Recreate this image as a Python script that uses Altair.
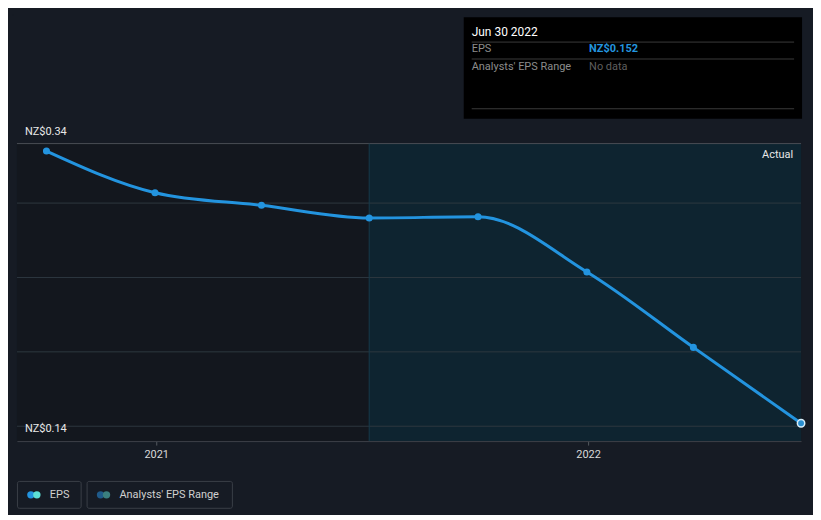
import altair as alt
import pandas as pd

# ---- data ----
dates = ["2020-09-30", "2020-12-31", "2021-03-31", "2021-06-30",
         "2021-09-30", "2021-12-31", "2022-03-31", "2022-06-30"]
eps = [0.335, 0.307, 0.2985, 0.290, 0.2908, 0.2537, 0.203, 0.152]

x_start = "2020-09-05"
x_end = "2022-06-30"
split_date = "2021-06-30"
tick_years = [2021, 2022]
y_lo, y_hi = 0.14, 0.34
grid_vals = [0.15, 0.20, 0.25, 0.30]
y_labels = ["NZ$0.34", "NZ$0.14"]
y_label_vals = [0.34, 0.14]

W, H = 788, 299
BG = "#161b24"
BLUE = "#2394df"
FONT = "Roboto"


def dec_year(s):
    t = pd.Timestamp(s)
    days = 366 if t.is_leap_year else 365
    return t.year + (t.dayofyear - 1) / days


df = pd.DataFrame({"yr": [dec_year(d) for d in dates], "eps": eps})
x0, x1, xsplit = dec_year(x_start), dec_year(x_end), dec_year(split_date)
xs = alt.Scale(domain=[x0, x1], nice=False, zero=False)
ys = alt.Scale(domain=[y_lo, y_hi], nice=False, zero=False)
XAX = alt.Axis(values=tick_years, format="d", title=None, grid=False,
               labelColor="#d8d8d8", labelFont=FONT, labelFontSize=11,
               tickColor="#555a60", tickSize=4, domainColor="#3d4249", labelPadding=3)
one = pd.DataFrame({"a": [0]})


def X(f):
    return alt.X(f, scale=xs, axis=XAX)


def Y(f):
    return alt.Y(f, scale=ys, axis=None)


def txt(t, x, y, color, size=11, align="left", weight="normal"):
    return alt.Chart(one).mark_text(
        text=t, align=align, baseline="middle", color=color, font=FONT,
        fontSize=size, fontWeight=weight).encode(x=alt.value(x), y=alt.value(y))


def hrule(y, xa, xb, color):
    return alt.Chart(one).mark_rule(color=color, strokeWidth=1).encode(
        x=alt.value(xa), x2=alt.value(xb), y=alt.value(y))


def vrect(xa, xb, ya, yb, fill, stroke=None):
    kw = {"fill": fill}
    if stroke:
        kw.update(stroke=stroke, strokeWidth=1, cornerRadius=2)
    return alt.Chart(one).mark_rect(**kw).encode(
        x=alt.value(xa), x2=alt.value(xb), y=alt.value(ya), y2=alt.value(yb))


def region(a, b, c):
    d = pd.DataFrame({"start": [a], "end": [b], "lo": [y_lo], "hi": [y_hi]})
    return alt.Chart(d).mark_rect(color=c, opacity=1).encode(
        x=X("start:Q"), x2="end:Q", y=Y("lo:Q"), y2="hi:Q")


def hline(vals, c):
    d = pd.DataFrame({"v": vals, "s": [x0] * len(vals), "e": [x1] * len(vals)})
    return alt.Chart(d).mark_rule(color=c, strokeWidth=1).encode(
        y=Y("v:Q"), x=X("s:Q"), x2="e:Q")


bg_left = region(x0, xsplit, "#13171e")
bg_right = region(xsplit, x1, "#0e2430")
grid = hline(grid_vals, "#2d3740")
top_line = hline([y_hi], "#4a4e55")

split = alt.Chart(pd.DataFrame({"d": [xsplit], "lo": [y_lo], "hi": [y_hi]})).mark_rule(
    color="#17394a", strokeWidth=1).encode(x=X("d:Q"), y=Y("lo:Q"), y2="hi:Q")

line = alt.Chart(df).mark_line(color=BLUE, strokeWidth=3, interpolate="monotone").encode(
    x=X("yr:Q"), y=Y("eps:Q"))
pts = alt.Chart(df.iloc[:-1]).mark_circle(color=BLUE, size=50, opacity=1).encode(
    x=X("yr:Q"), y=Y("eps:Q"))
last_pt = alt.Chart(df.iloc[-1:]).mark_point(filled=True, fill="#2a8fd0", stroke="#d8eefa",
                                             strokeWidth=1.5, size=55, opacity=1).encode(
    x=X("yr:Q"), y=Y("eps:Q"))

ylab = alt.Chart(pd.DataFrame({"t": y_labels, "v": y_label_vals, "d": [x0, x0]})).mark_text(
    align="left", baseline="middle", dx=8, dy=-12, color="#e8e8e8", font=FONT, fontSize=11).encode(
    x=X("d:Q"), y=Y("v:Q"), text="t:N")

actual = txt("Actual", 780, 11, "#e8e8e8", align="right")

spacers = [vrect(-4, -3, -130, -129, BG)]

tip = [
    vrect(449, 789, -127, -25, "#000000"),
    hrule(-102, 457, 781, "#3a3a3a"),
    hrule(-85, 457, 781, "#3a3a3a"),
    hrule(-35, 457, 781, "#3a3a3a"),
    txt("Jun 30 2022", 457, -112, "#ffffff", size=12),
    txt("EPS", 457, -95, "#8c8c8c"),
    txt("Analysts' EPS Range", 457, -77, "#8c8c8c"),
    txt("NZ$0.152", 575, -95, BLUE, weight="bold"),
    txt("No data", 575, -77, "#5f5f5f"),
]


def dot(x, c):
    return alt.Chart(one).mark_circle(size=55, opacity=1, color=c).encode(
        x=alt.value(x), y=alt.value(353))


legend = [
    vrect(0.5, 64.5, 339.5, 366.5, BG, stroke="#3a3f48"),
    vrect(70.5, 216.5, 339.5, 366.5, BG, stroke="#3a3f48"),
    dot(14, "#2394df"), dot(20, "#5de0d5"), dot(84, "#1f5a8a"), dot(90, "#3b7f7f"),
    txt("EPS", 33, 353, "#d0d0d0"),
    txt("Analysts' EPS Range", 103, 353, "#d0d0d0"),
]

chart = alt.layer(
    bg_left, bg_right, grid, top_line, split, line, pts, last_pt, ylab, actual,
    *spacers, *tip, *legend
).properties(
    width=W, height=H, background=BG
).configure_view(strokeWidth=0)

chart.save("out.html", embed_options={"renderer": "svg", "actions": False})
